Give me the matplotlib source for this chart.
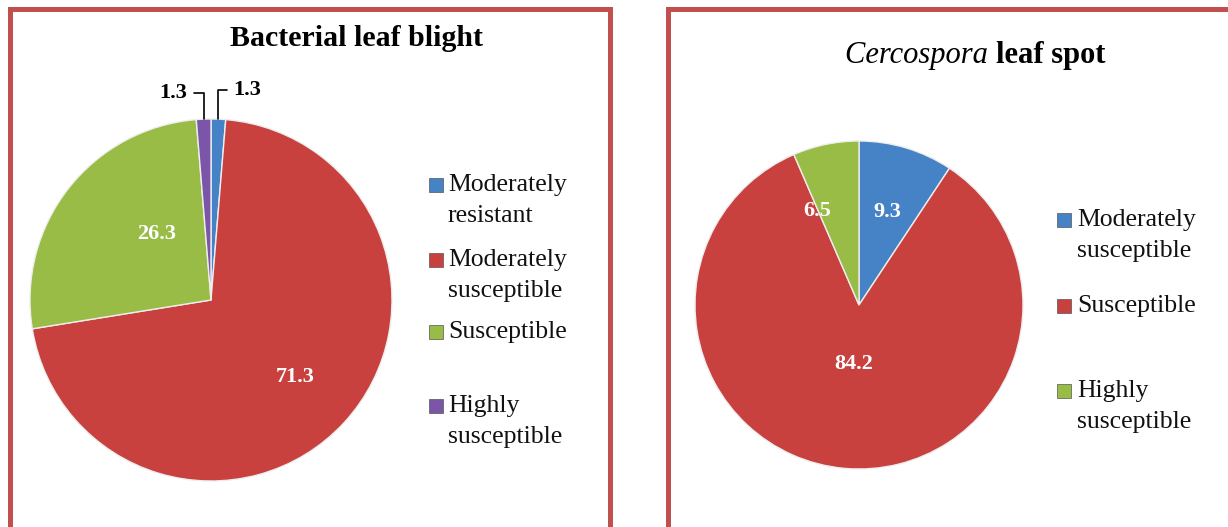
import matplotlib.pyplot as plt
import numpy as np
from matplotlib.patches import Rectangle

plt.rcParams['font.family'] = ['Liberation Serif', 'DejaVu Serif']

######################################################################
# Data
######################################################################

blb_labels = ['Moderately\nresistant', 'Moderately\nsusceptible', 'Susceptible', 'Highly\nsusceptible']
blb_values = [1.3, 71.3, 26.3, 1.3]
blb_colors = ['#4683C6', '#C8413F', '#98BC45', '#7A55A8']

cls_labels = ['Moderately\nsusceptible', 'Susceptible', 'Highly\nsusceptible']
cls_values = [9.3, 84.2, 6.5]
cls_colors = ['#4683C6', '#C8413F', '#98BC45']

######################################################################
# Layout (pixels of the 1228x527 canvas)
######################################################################

W, H = 1228, 527
BORDER = '#C0504D'

fig = plt.figure(figsize=(W / 100, H / 100), dpi=100)


def fx(x):
    return x / W


def fy(y):
    return 1 - y / H


def pie_axes(cx, cy, r):
    return fig.add_axes([fx(cx - r), fy(cy + r), 2 * r / W, 2 * r / H])


def draw_border(x0, x1):
    fig.add_artist(Rectangle((fx(x0), -0.1), fx(x1 - x0), fy(9) + 0.1,
                             transform=fig.transFigure, fill=False,
                             edgecolor=BORDER, linewidth=3.6, zorder=0))


def draw_pie(ax, values, colors):
    wedges, _ = ax.pie(values, colors=colors, startangle=90, counterclock=False,
                       wedgeprops=dict(edgecolor='#eeeeee', linewidth=1.0))
    ax.set_xlim(-1, 1)
    ax.set_ylim(-1, 1)
    return wedges


def mid_angle(w):
    return np.deg2rad((w.theta1 + w.theta2) / 2)


def inner_label(ax, w, value, dist, nudge=(0, 0)):
    a = mid_angle(w)
    ax.annotate(f'{value}', xy=(dist * np.cos(a), dist * np.sin(a)),
                xytext=nudge, textcoords='offset points',
                ha='center', va='center', color='white',
                fontsize=16, fontweight='bold')


def outer_label(ax, w, value, offset, ha):
    a = mid_angle(w)
    ax.annotate(f'{value}', xy=(np.cos(a), np.sin(a)), xytext=offset,
                textcoords='offset points', ha=ha, va='center',
                fontsize=16, fontweight='bold', color='black', annotation_clip=False,
                arrowprops=dict(arrowstyle='-', color='black', lw=1.2,
                                connectionstyle='angle,angleA=0,angleB=90',
                                shrinkA=3, shrinkB=0))


def draw_legend(xm, xt, ys, labels, colors):
    for y0, lab, col in zip(ys, labels, colors):
        fig.add_artist(Rectangle((fx(xm - 7), fy(y0 + 7)), 14 / W, 14 / H,
                                 transform=fig.transFigure, facecolor=col,
                                 edgecolor='#555555', linewidth=0.5))
        for i, line in enumerate(lab.split('\n')):
            fig.text(fx(xt), fy(y0 + 31 * i), line, ha='left', va='center',
                     fontsize=18.5, color='#111111')


######################################################################
# Bacterial leaf blight
######################################################################

draw_border(10, 610)
fig.text(fx(357), fy(39), 'Bacterial leaf blight', ha='center', va='center',
         fontsize=21.5, fontweight='bold')

ax1 = pie_axes(211, 300, 181)
w1 = draw_pie(ax1, blb_values, blb_colors)
outer_label(ax1, w1[0], blb_values[0], (11, 21), 'left')
inner_label(ax1, w1[1], blb_values[1], 0.63)
inner_label(ax1, w1[2], blb_values[2], 0.47, nudge=(9, 10))
outer_label(ax1, w1[3], blb_values[3], (-12, 19), 'right')

draw_legend(436, 448, [185, 260, 332, 406], blb_labels, blb_colors)

######################################################################
# Cercospora leaf spot
######################################################################

draw_border(668, 1245)

r = fig.canvas.get_renderer()
t_it = fig.text(0, 0, 'Cercospora ', fontsize=22, fontstyle='italic')
t_bf = fig.text(0, 0, 'leaf spot', fontsize=22, fontweight='bold')
w_it = t_it.get_window_extent(r).width
w_bf = t_bf.get_window_extent(r).width
x_start = 975 - (w_it + w_bf) / 2
t_it.set_position((fx(x_start), fy(55)))
t_it.set_va('center')
t_bf.set_position((fx(x_start + w_it), fy(55)))
t_bf.set_va('center')

ax2 = pie_axes(859, 305, 164)
w2 = draw_pie(ax2, cls_values, cls_colors)
inner_label(ax2, w2[0], cls_values[0], 0.59)
inner_label(ax2, w2[1], cls_values[1], 0.36)
inner_label(ax2, w2[2], cls_values[2], 0.6, nudge=(-16, -2))

draw_legend(1064, 1077, [220, 306, 391], cls_labels, cls_colors)

fig.savefig('out.png', dpi=100, facecolor='white')
